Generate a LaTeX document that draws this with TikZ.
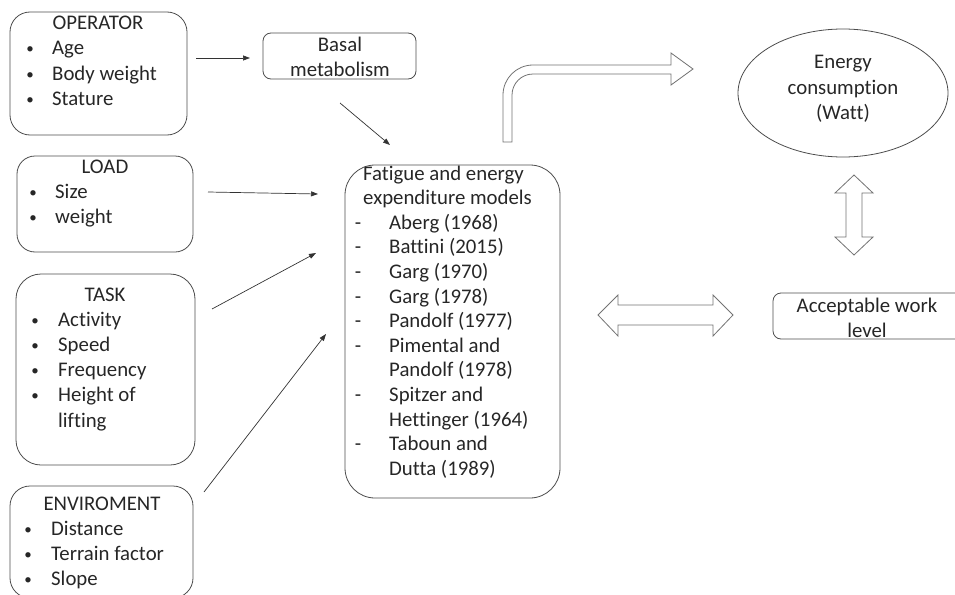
\documentclass[tikz,border=0pt]{standalone}
\usepackage{fontspec}
\setmainfont{Carlito}[Ligatures=NoCommon]
\usetikzlibrary{arrows.meta,shapes.geometric}
\begin{document}
\begin{tikzpicture}[x=1pt,y=-1pt,
  box/.style={draw=black!70, line width=0.8pt, rounded corners=#1, inner sep=0pt},
  box/.default=20pt,
  txt/.style={font=\fontsize{20.8}{25}\selectfont, text=black!85, inner sep=0pt, anchor=base west},
  ctxt/.style={txt, anchor=base},
  bul/.style={txt, anchor=base, font=\fontsize{15}{25}\selectfont},
  dsh/.style={txt, anchor=base},
  arr/.style={draw=black!80, line width=0.7pt, -{Triangle[length=7pt,width=5pt]}},
  blk/.style={draw=black!55, line width=0.8pt, fill=white, line join=miter}]
\useasboundingbox (0,0) rectangle (955,594);
\clip (0,0) rectangle (955,594);

% ---------- boxes ----------
\node[box=20pt, minimum width=177pt, minimum height=123pt] (op) at (98.5,73.5) {};
\node[box=8pt, minimum width=153pt, minimum height=46pt] (basal) at (339.5,56) {};
\node[box=18pt, minimum width=176pt, minimum height=96pt] (load) at (105,204) {};
\node[box=25pt, minimum width=179pt, minimum height=191pt] (task) at (105.5,369.5) {};
\node[box=20pt, minimum width=183pt, minimum height=112pt] (env) at (101.5,542) {};
\node[box=30pt, minimum width=215pt, minimum height=333pt] (fat) at (452.5,331.5) {};
\node[box=8pt, minimum width=192pt, minimum height=46pt] (acc) at (869,316) {};
\node[draw=black!70, line width=0.8pt, ellipse, minimum width=210pt, minimum height=128pt, inner sep=0pt] (ell) at (843,93) {};

% ---------- texts ----------
\node[ctxt] (opt) at (98,30) {OPERATOR};
\foreach \t [count=\i] in {Age,Body weight,Stature}{
  \node[bul] (opb\i) at (30,{29+25*\i}) {•};
  \node[txt] (opi\i) at (52,{30+25*\i}) {\t};
}
\node[ctxt] (ba1) at (340,51.5) {Basal};
\node[ctxt] (ba2) at (340,76.5) {metabolism};

\node[ctxt] (loadt) at (105,173) {LOAD};
\foreach \t [count=\i] in {Size,weight}{
  \node[bul] (loadb\i) at (33,{172+25*\i}) {•};
  \node[txt] (loadi\i) at (55,{173+25*\i}) {\t};
}

\node[ctxt] (taskt) at (105,301) {TASK};
\foreach \t [count=\i] in {Activity,Speed,Frequency,Height of}{
  \node[bul] (taskb\i) at (35,{300+25*\i}) {•};
  \node[txt] (taski\i) at (58,{301+25*\i}) {\t};
}
\node[txt] (taski5) at (58,427) {lifting};

\node[ctxt] (envt) at (102,510) {ENVIROMENT};
\foreach \t [count=\i] in {Distance,Terrain factor,Slope}{
  \node[bul] (envb\i) at (28,{509+25*\i}) {•};
  \node[txt] (envi\i) at (51,{510+25*\i}) {\t};
}

\node[txt] (fat1) at (363,180) {Fatigue and energy};
\node[txt] (fat2) at (363,204.6) {expenditure models};
\foreach \d/\t [count=\i] in {1/Aberg (1968),1/Battini (2015),1/Garg (1970),1/Garg (1978),1/Pandolf (1977),1/Pimental and,0/Pandolf (1978),1/Spitzer and,0/Hettinger (1964),1/Taboun and,0/Dutta (1989)}{
  \ifnum\d=1 \node[dsh] (fatd\i) at (358,{180+24.6*(\i+1)}) {-};\fi
  \node[txt] (fati\i) at (389,{180+24.6*(\i+1)}) {\t};
}

\node[ctxt] (e1) at (843,69) {Energy};
\node[ctxt] (e2) at (843,94) {consumption};
\node[ctxt] (e3) at (843,119) {(Watt)};

\node[ctxt] (ac1) at (867,312) {Acceptable work};
\node[ctxt] (ac2) at (867,337) {level};

% ---------- thin arrows ----------
\coordinate (a1s) at (196,58);   \coordinate (a1e) at (250,58);
\coordinate (a2s) at (340,103);  \coordinate (a2e) at (390,145);
\coordinate (a3s) at (208,192);  \coordinate (a3e) at (318,194);
\coordinate (a4s) at (212,309);  \coordinate (a4e) at (316,253);
\coordinate (a5s) at (204,492);  \coordinate (a5e) at (326,334);
\draw[arr] (a1s) -- (a1e);
\draw[arr] (a2s) -- (a2e);
\draw[arr] (a3s) -- (a3e);
\draw[arr] (a4s) -- (a4e);
\draw[arr] (a5s) -- (a5e);

% ---------- block arrows ----------
% bent arrow from models to energy consumption
\draw[blk] (503,142) -- (503,95) arc[start angle=180, end angle=270, radius=30]
  -- (671,65) -- (671,53) -- (693,69) -- (671,85) -- (671,74) -- (533,74)
  arc[start angle=270, end angle=180, radius=21] -- (512,142) -- cycle;
% horizontal double arrow
\draw[blk] (598,315) -- (618,295) -- (618,305) -- (713,305) -- (713,295) -- (733,315)
  -- (713,336) -- (713,325) -- (618,325) -- (618,336) -- cycle;
% vertical double arrow
\draw[blk] (854,175) -- (873,193) -- (862,193) -- (862,237) -- (873,237) -- (854,255)
  -- (835,237) -- (846,237) -- (846,193) -- (835,193) -- cycle;
\end{tikzpicture}
\end{document}
